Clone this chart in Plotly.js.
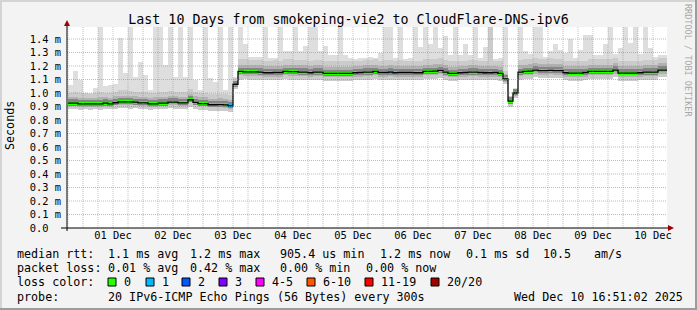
<!DOCTYPE html>
<html><head><meta charset="utf-8">
<script src="https://cdn.plot.ly/plotly-3.0.1.min.js"></script>
<style>
html,body{margin:0;padding:0;background:#f3f3f3;}
#wrap{position:relative;width:697px;height:310px;background:#f3f3f3;overflow:hidden;}
#chart{position:absolute;left:0;top:0;width:697px;height:310px;}
.b{position:absolute;}
</style></head><body>
<div id="wrap"><div id="chart"></div>
<div class="b" style="left:0;top:0;width:697px;height:2px;background:#d4d4d4"></div>
<div class="b" style="left:0;top:0;width:2px;height:310px;background:#d4d4d4"></div>
<div class="b" style="left:0;top:308px;width:697px;height:2px;background:#9c9c9c"></div>
<div class="b" style="left:695px;top:0;width:2px;height:310px;background:#9c9c9c"></div>
</div>
<script>
// ---- data (ms), 2-hour bins starting 30 Nov 18:00 ----
const med = [0.925,0.925,0.92,0.92,0.92,0.92,0.92,0.925,0.92,0.928,
 0.934,0.934,0.934,0.932,0.927,0.927,0.92,0.92,0.925,0.925,
 0.933,0.933,0.927,0.927,0.95,0.93,0.922,0.922,0.913,0.913,
 0.914,0.912,0.905,
 1.065,
 1.16,1.157,1.157,1.157,1.155,1.15,1.15,1.152,1.152,
 1.16,1.158,1.158,1.155,1.155,1.15,1.155,1.155,1.146,1.146,
 1.146,1.146,1.146,1.146,1.15,1.152,1.155,1.155,1.16,1.152,
 1.152,
 1.155,1.15,1.152,1.152,1.152,1.15,1.15,1.16,1.16,1.162,
 1.168,1.155,1.146,1.146,1.15,1.152,1.155,1.155,1.152,1.15,
 1.15,1.152,1.145,1.105,0.94,1.0,1.154,1.16,1.162,1.17,
 1.166,1.166,1.168,1.166,1.166,1.15,1.148,1.148,1.148,1.152,
 1.16,1.16,1.16,1.16,1.16,1.17,1.148,1.148,1.148,1.148,
 1.15,1.155,1.155,1.155,1.17,1.17];

const pingMax = [1.06,1.16,1.10,1.0,1.0,1.04,1.5,1.05,1.06,1.07,
 1.41,1.15,1.5,1.12,1.23,1.13,1.02,1.5,1.5,1.21,
 1.5,1.12,1.5,1.12,1.5,1.10,1.02,1.5,1.11,1.08,
 1.5,1.02,1.5,
 1.12,
 1.5,1.36,1.27,1.27,1.27,1.5,1.26,1.26,1.5,
 1.31,1.31,1.5,1.31,1.35,1.5,1.5,1.31,1.35,1.28,
 1.28,1.5,1.28,1.26,1.25,1.26,1.26,1.27,1.26,1.3,
 1.5,
 1.5,1.26,1.5,1.25,1.26,1.5,1.34,1.5,1.36,1.5,
 1.33,1.42,1.28,1.5,1.28,1.36,1.28,1.5,1.26,1.34,
 1.3,1.25,1.26,1.5,0.98,1.04,1.5,1.31,1.29,1.5,
 1.5,1.27,1.31,1.36,1.32,1.30,1.40,1.26,1.32,1.43,
 1.43,1.28,1.28,1.36,1.5,1.29,1.33,1.5,1.37,1.5,
 1.29,1.5,1.33,1.27,1.28,1.28];

const pingP90 = [1.0,1.01,1.0,1.0,0.995,1.0,1.01,1.0,1.0,1.01,
 1.02,1.02,1.015,1.01,1.01,1.005,1.0,1.0,1.01,1.005,
 1.015,1.01,1.01,1.005,1.03,1.01,1.0,1.0,0.99,0.995,
 0.995,0.99,0.985,
 1.11,
 1.25,1.25,1.245,1.245,1.245,1.24,1.24,1.245,1.24,
 1.25,1.25,1.245,1.245,1.245,1.24,1.245,1.245,1.235,1.235,
 1.235,1.24,1.235,1.235,1.24,1.24,1.245,1.245,1.25,1.24,
 1.245,
 1.245,1.24,1.245,1.24,1.24,1.24,1.24,1.25,1.25,1.255,
 1.26,1.245,1.235,1.235,1.24,1.24,1.245,1.245,1.24,1.24,
 1.5,1.24,1.235,1.16,0.98,1.03,1.245,1.25,1.255,1.26,
 1.255,1.255,1.26,1.255,1.255,1.24,1.235,1.235,1.235,1.24,
 1.25,1.25,1.25,1.25,1.25,1.26,1.235,1.235,1.235,1.235,
 1.24,1.245,1.245,1.245,1.26,1.26];

const pingQ3 = [0.97,0.97,0.965,0.965,0.965,0.965,0.97,0.97,0.965,0.975,
 0.98,0.98,0.98,0.978,0.972,0.972,0.965,0.968,0.97,0.97,
 0.978,0.978,0.972,0.972,0.99,0.975,0.967,0.967,0.958,0.958,
 0.96,0.957,0.95,
 1.09,
 1.21,1.207,1.207,1.207,1.205,1.2,1.2,1.202,1.202,
 1.21,1.208,1.208,1.205,1.205,1.2,1.205,1.205,1.196,1.196,
 1.196,1.196,1.196,1.196,1.2,1.202,1.205,1.205,1.21,1.202,
 1.202,
 1.205,1.2,1.202,1.202,1.202,1.2,1.2,1.21,1.21,1.212,
 1.218,1.205,1.196,1.196,1.2,1.202,1.205,1.205,1.202,1.2,
 1.2,1.202,1.195,1.14,0.97,1.02,1.204,1.21,1.212,1.22,
 1.216,1.216,1.218,1.216,1.216,1.2,1.198,1.198,1.198,1.202,
 1.21,1.21,1.21,1.21,1.21,1.22,1.198,1.198,1.198,1.198,
 1.2,1.205,1.205,1.205,1.22,1.22];

const pingQ1 = [0.905,0.905,0.9,0.9,0.9,0.9,0.9,0.905,0.9,0.908,
 0.914,0.914,0.914,0.912,0.907,0.907,0.9,0.9,0.905,0.905,
 0.913,0.913,0.907,0.907,0.93,0.91,0.902,0.902,0.893,0.893,
 0.894,0.892,0.885,
 1.045,
 1.13,1.127,1.127,1.127,1.125,1.12,1.12,1.122,1.122,
 1.13,1.128,1.128,1.125,1.125,1.12,1.125,1.125,1.116,1.116,
 1.116,1.116,1.116,1.116,1.12,1.122,1.125,1.125,1.13,1.122,
 1.122,
 1.125,1.12,1.122,1.122,1.122,1.12,1.12,1.13,1.13,1.132,
 1.138,1.125,1.116,1.116,1.12,1.122,1.125,1.125,1.122,1.12,
 1.12,1.122,1.115,1.085,0.92,0.98,1.124,1.13,1.132,1.14,
 1.136,1.136,1.138,1.136,1.136,1.12,1.118,1.118,1.118,1.122,
 1.13,1.13,1.13,1.13,1.13,1.14,1.118,1.118,1.118,1.118,
 1.12,1.125,1.125,1.125,1.14,1.14];

const pingMin = [0.88,0.88,0.875,0.88,0.875,0.88,0.875,0.88,0.88,0.885,
 0.89,0.89,0.885,0.89,0.885,0.88,0.875,0.88,0.88,0.885,
 0.89,0.885,0.88,0.88,0.9,0.885,0.875,0.875,0.87,0.87,
 0.87,0.865,0.86,
 1.03,
 1.1,1.105,1.1,1.1,1.1,1.095,1.095,1.1,1.1,
 1.105,1.1,1.1,1.1,1.1,1.095,1.1,1.1,1.09,1.09,
 1.09,1.09,1.09,1.09,1.095,1.095,1.1,1.1,1.105,1.095,
 1.095,
 1.1,1.095,1.095,1.095,1.1,1.095,1.095,1.105,1.105,1.105,
 1.11,1.1,1.09,1.09,1.095,1.095,1.1,1.1,1.095,1.095,
 1.095,1.095,1.09,1.07,0.9,0.96,1.1,1.105,1.105,1.115,
 1.11,1.11,1.11,1.11,1.11,1.095,1.09,1.09,1.09,1.095,
 1.105,1.105,1.105,1.105,1.105,1.115,1.09,1.09,1.09,1.09,
 1.095,1.1,1.1,1.1,1.115,1.115];

const lossOneBins = [32, 64, 83];   // bins with 1 of 20 pings lost

const yTickVals = [0,0.1,0.2,0.3,0.4,0.5,0.6,0.7,0.8,0.9,1.0,1.1,1.2,1.3,1.4];
const yTickText = ['0.0\u00a0\u00a0','0.1 m','0.2 m','0.3 m','0.4 m','0.5 m','0.6 m','0.7 m','0.8 m','0.9 m','1.0 m','1.1 m','1.2 m','1.3 m','1.4 m'];

const lossLabels = ['0','1','2','3','4-5','6-10','11-19','20/20'];
const lossColors = ['#26ff00','#00b8ff','#0059ff','#7e00ff','#ff00ff','#ff5500','#ff0000','#a10000'];

// ---- geometry ----
const STEP = 2*3600*1000;
const HOUR = 3600*1000;
const t0 = Date.UTC(2025,10,30,18,0,0);
const xStart = med.map((_,i)=> t0 + STEP*i);
const xc = xStart.map(v=> v + STEP/2);
const xL = Date.UTC(2025,10,30,17,36,0), xR = Date.UTC(2025,11,10,17,36,0);

function band(lower, upper, color){
  return {type:'bar', x:xc, base:lower, y:upper.map((u,i)=>u-lower[i]), width:STEP,
    marker:{color:color, line:{width:0}}, hoverinfo:'skip', showlegend:false};
}
const traces = [
  band(pingMin, pingMax, '#dedede'),
  band(pingMin, pingP90, '#cbcbcb'),
  band(pingQ1, pingQ3, '#b2b2b2'),
  {type:'bar', x:xc, base:med.map(v=>v-0.018), y:med.map(()=>0.045), width:STEP,
   marker:{color:'#858585', line:{width:0}}, hoverinfo:'skip', showlegend:false},
  {type:'scatter', mode:'lines', x:xStart.concat([xStart[xStart.length-1]+STEP]), y:med.concat([med[med.length-1]]),
   line:{shape:'hv', color:'#000', width:1.3}, hoverinfo:'skip', showlegend:false},
  {type:'bar', x:xc, base:med.map(v=>v-0.011), y:med.map(()=>0.022), width:STEP,
   marker:{color:med.map((_,i)=> lossOneBins.includes(i) ? lossColors[1] : lossColors[0]), line:{width:0}},
   hoverinfo:'skip', showlegend:false}
];

const px2x = p => (p-67)/600;
const py2y = p => (228-p)/201;
const MONO = 'DejaVu Sans Mono';
const ann = [];
function txt(s, px, py, size){
  ann.push({text:s, xref:'paper', yref:'paper', x:px2x(px), y:py2y(py), xanchor:'left', yanchor:'middle',
    showarrow:false, borderpad:0, font:{family:MONO, size:size||11.7, color:'#000'}});
}
txt('median rtt:',16,254); txt('1.1 ms avg',107,254); txt('1.2 ms max',189,254);
txt('905.4 us min',279,254); txt('1.2 ms now',379,254); txt('0.1 ms sd',465,254);
txt('10.5',542,254); txt('am/s',593,254);
txt('packet loss:',16,268); txt('0.01 % avg',107,268); txt('0.42 % max',189,268);
txt('0.00 % min',279,268); txt('0.00 % now',365,268);
txt('loss color:',16,282);
const boxX = [108,146,182,219,256,307,365,431];
const shapes = [];

// grid drawn above the smoke, as rrdtool does
const gridRed = 'rgba(226,110,110,0.6)', gridGray = 'rgba(140,140,140,0.5)';
for (let h = -6; h <= 9*24 + 12; h += 6) {
  const t = Date.UTC(2025,11,1) + h*HOUR;
  shapes.push({type:'line', xref:'x', yref:'paper', x0:t, x1:t, y0:0, y1:1, layer:'above',
    line:{color: (h % 24 === 0) ? gridRed : gridGray, width:1, dash:'1px,1px'}});
}
yTickVals.slice(1).forEach(v=>{
  shapes.push({type:'line', xref:'paper', yref:'y', x0:0, x1:1, y0:v, y1:v, layer:'above',
    line:{color:gridRed, width:1, dash:'1px,1px'}});
});

lossLabels.forEach((l,i)=>{
  txt(l, boxX[i]+15, 282);
  shapes.push({type:'rect', xref:'paper', yref:'paper', x0:px2x(boxX[i]), x1:px2x(boxX[i]+8), y0:py2y(286), y1:py2y(278),
    fillcolor:lossColors[i], line:{color:'#000', width:1}});
});
txt('probe:',16,296.5); txt('20 IPv6-ICMP Echo Pings (56 Bytes) every 300s',107,296.5);
txt('Wed Dec 10 16:51:02 2025',513,296.5);
ann.push({text:'Seconds', xref:'paper', yref:'paper', x:px2x(10), y:py2y(126), textangle:-90,
  xanchor:'center', yanchor:'middle', showarrow:false, borderpad:0, font:{family:MONO, size:11.7, color:'#000'}});
ann.push({text:'RRDTOOL / TOBI OETIKER', xref:'paper', yref:'paper', x:px2x(688), y:py2y(60), textangle:90,
  xanchor:'center', yanchor:'middle', showarrow:false, borderpad:0, font:{family:MONO, size:8.5, color:'#a8a8a8'}});

// axes lines and arrows
shapes.push({type:'line', xref:'paper', yref:'paper', x0:px2x(61), x1:px2x(669), y0:0, y1:0, line:{color:'#000', width:1}});
shapes.push({type:'line', xref:'paper', yref:'paper', x0:0, x1:0, y0:py2y(231), y1:py2y(23), line:{color:'#000', width:1}});
shapes.push({type:'path', xref:'paper', yref:'paper', path:`M ${px2x(668)},${py2y(225)} L ${px2x(674)},${py2y(228)} L ${px2x(668)},${py2y(231)} Z`, fillcolor:'#a00000', line:{width:0}});
shapes.push({type:'path', xref:'paper', yref:'paper', path:`M ${px2x(64)},${py2y(26)} L ${px2x(67)},${py2y(20)} L ${px2x(70)},${py2y(26)} Z`, fillcolor:'#a00000', line:{width:0}});

const layout = {
  width:697, height:310, margin:{l:67, r:30, t:27, b:82},
  paper_bgcolor:'rgba(0,0,0,0)', plot_bgcolor:'#ffffff',
  barmode:'overlay', bargap:0, showlegend:false,
  font:{family:MONO, size:10.4, color:'#000'},
  title:{text:'Last 10 Days from smokeping-vie2 to CloudFlare-DNS-ipv6',
    font:{family:MONO, size:13.3, color:'#000'}, xref:'container', x:0.5, xanchor:'center',
    yref:'container', y:1-19.5/310, yanchor:'middle'},
  xaxis:{type:'date', range:[xL, xR], tick0:Date.UTC(2025,11,1), dtick:86400000, ticklabelmode:'period',
    tickformat:'%d %b', ticks:'', showline:false, zeroline:false, fixedrange:true, showgrid:false,
    tickfont:{family:MONO, size:10.4, color:'#000'}},
  yaxis:{range:[0,1.489], tickmode:'array', tickvals:yTickVals, ticktext:yTickText, ticks:'',
    showline:false, zeroline:false, fixedrange:true, ticklabelstandoff:5, showgrid:false,
    tickfont:{family:MONO, size:10.4, color:'#000'}},
  annotations:ann, shapes:shapes
};
Plotly.newPlot('chart', traces, layout, {staticPlot:true, displayModeBar:false});
</script>
</body></html>
